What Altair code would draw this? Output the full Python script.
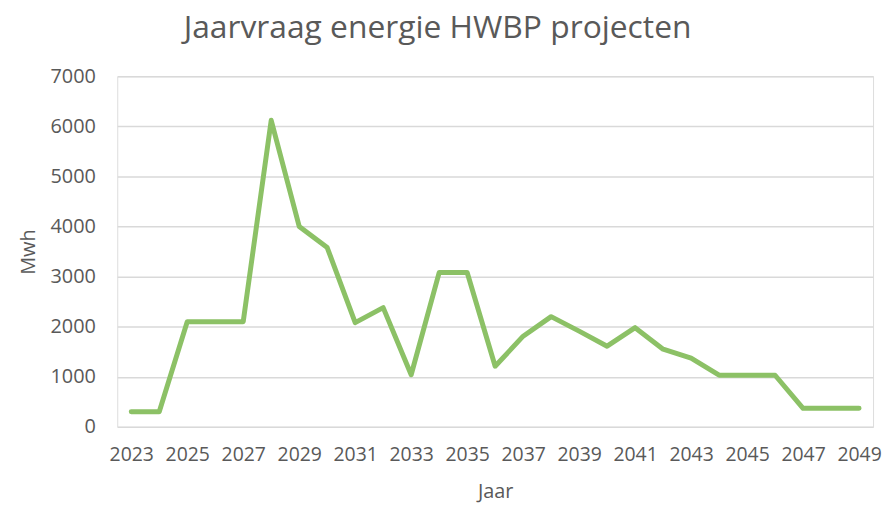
import altair as alt
import pandas as pd

years = list(range(2023, 2050))
mwh = [300, 300, 2100, 2100, 2100, 6120, 4000, 3580, 2080, 2380, 1040,
       3080, 3080, 1210, 1810, 2200, 1910, 1610, 1980, 1550, 1370,
       1030, 1030, 1030, 370, 370, 370]
label_years = list(range(2023, 2050, 2))
y_ticks = list(range(0, 8000, 1000))

df = pd.DataFrame({"Jaar": years, "Mwh": mwh})

FONT = "Open Sans"
TXT = "#595959"

chart = alt.Chart(df).mark_line(
    color="#8cc166", strokeWidth=5, strokeCap="round", strokeJoin="round"
).encode(
    x=alt.X("Jaar:O", title="Jaar",
            axis=alt.Axis(values=label_years, labelAngle=0, ticks=False,
                          domain=False, grid=False, labelPadding=19,
                          labelFontSize=19.5, labelFont=FONT, labelColor=TXT,
                          titleFontSize=20, titleFont=FONT, titleColor=TXT,
                          titleFontWeight="normal", titlePadding=18)),
    y=alt.Y("Mwh:Q", title="Mwh",
            scale=alt.Scale(domain=[0, 7000], nice=False),
            axis=alt.Axis(values=y_ticks, format="d", ticks=False, domain=False,
                          grid=True, gridColor="#d9d9d9", gridWidth=1.5,
                          labelPadding=22, labelFontSize=20, labelFont=FONT,
                          labelColor=TXT, titleFontSize=20, titleFont=FONT,
                          titleColor=TXT, titleFontWeight="normal",
                          titlePadding=12)),
).properties(
    width=761, height=353,
    title=alt.Title("Jaarvraag energie HWBP projecten", fontSize=32,
                    font=FONT, color=TXT, fontWeight="normal",
                    anchor="middle", offset=21, dx=-58),
    padding={"left": 10, "top": 3, "right": 0, "bottom": 0},
).configure_view(stroke=None).configure(background="white")

chart.save("out.html", embed_options={"renderer": "svg", "actions": False})
